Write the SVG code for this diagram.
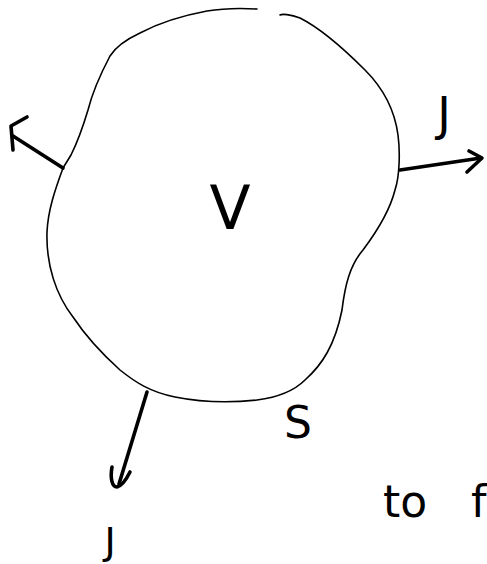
<svg xmlns="http://www.w3.org/2000/svg" width="487" height="564" viewBox="0 0 487 564">
<style>
.outline{fill:none;stroke:#000;stroke-width:1.6;stroke-linecap:round;stroke-linejoin:round}
.arrow{fill:none;stroke:#000;stroke-width:3.6;stroke-linecap:round;stroke-linejoin:round}
.lbl{font-family:"DejaVu Sans","Liberation Sans",sans-serif;fill:#000}
</style>
<rect width="487" height="564" fill="#fff"/>
<g id="surface">
<path class="outline" d="M63,168 C55,190 48,210 47,232 C46,265 56,295 73,317 C85,335 100,352 120,370 C135,382 150,392 175,397 C200,402 230,403 257,400 C280,397 295,390 305,380 C322,365 335,345 342,310 C345,285 350,265 363,250 C378,230 390,210 395,190 C400,175 400,150 398,135 C394,105 380,85 365,70 C345,50 320,28 300,18 C290,14 282,14 280,15 M257,9 C240,8 225,8 207,11 C180,16 155,25 140,33 C125,40 115,48 110,56 C100,75 93,90 88,110 C82,130 76,145 71,155 L63,168"/>
</g>
<g id="connectors">
<g id="flux-left">
<line class="arrow" x1="63" y1="168" x2="13" y2="136"/>
<polyline class="arrow" points="27,117 11,126 13,150"/>
</g>
<g id="flux-right">
<line class="arrow" x1="400" y1="170" x2="481" y2="158"/>
<polyline class="arrow" points="469,151 482,158 467,172"/>
</g>
<g id="flux-bottom">
<line class="arrow" x1="147" y1="392" x2="119" y2="484"/>
<path class="arrow" d="M112,467 C110,478 112,487 117,487 C121,486 126,480 130,472"/>
</g>
</g>
<g id="labels">
<text id="label-V" class="lbl" x="230" y="229" font-size="60" text-anchor="middle">V</text>
<text id="label-J-right" class="lbl" x="444" y="130" font-size="46" text-anchor="middle">J</text>
<text id="label-J-bottom" class="lbl" x="110" y="554" font-size="38" text-anchor="middle">J</text>
<text id="label-S" class="lbl" x="298" y="438" font-size="44" text-anchor="middle">S</text>
<text id="label-to" class="lbl" x="383" y="517" font-size="44">to <tspan x="471">f</tspan></text>
</g>
</svg>
